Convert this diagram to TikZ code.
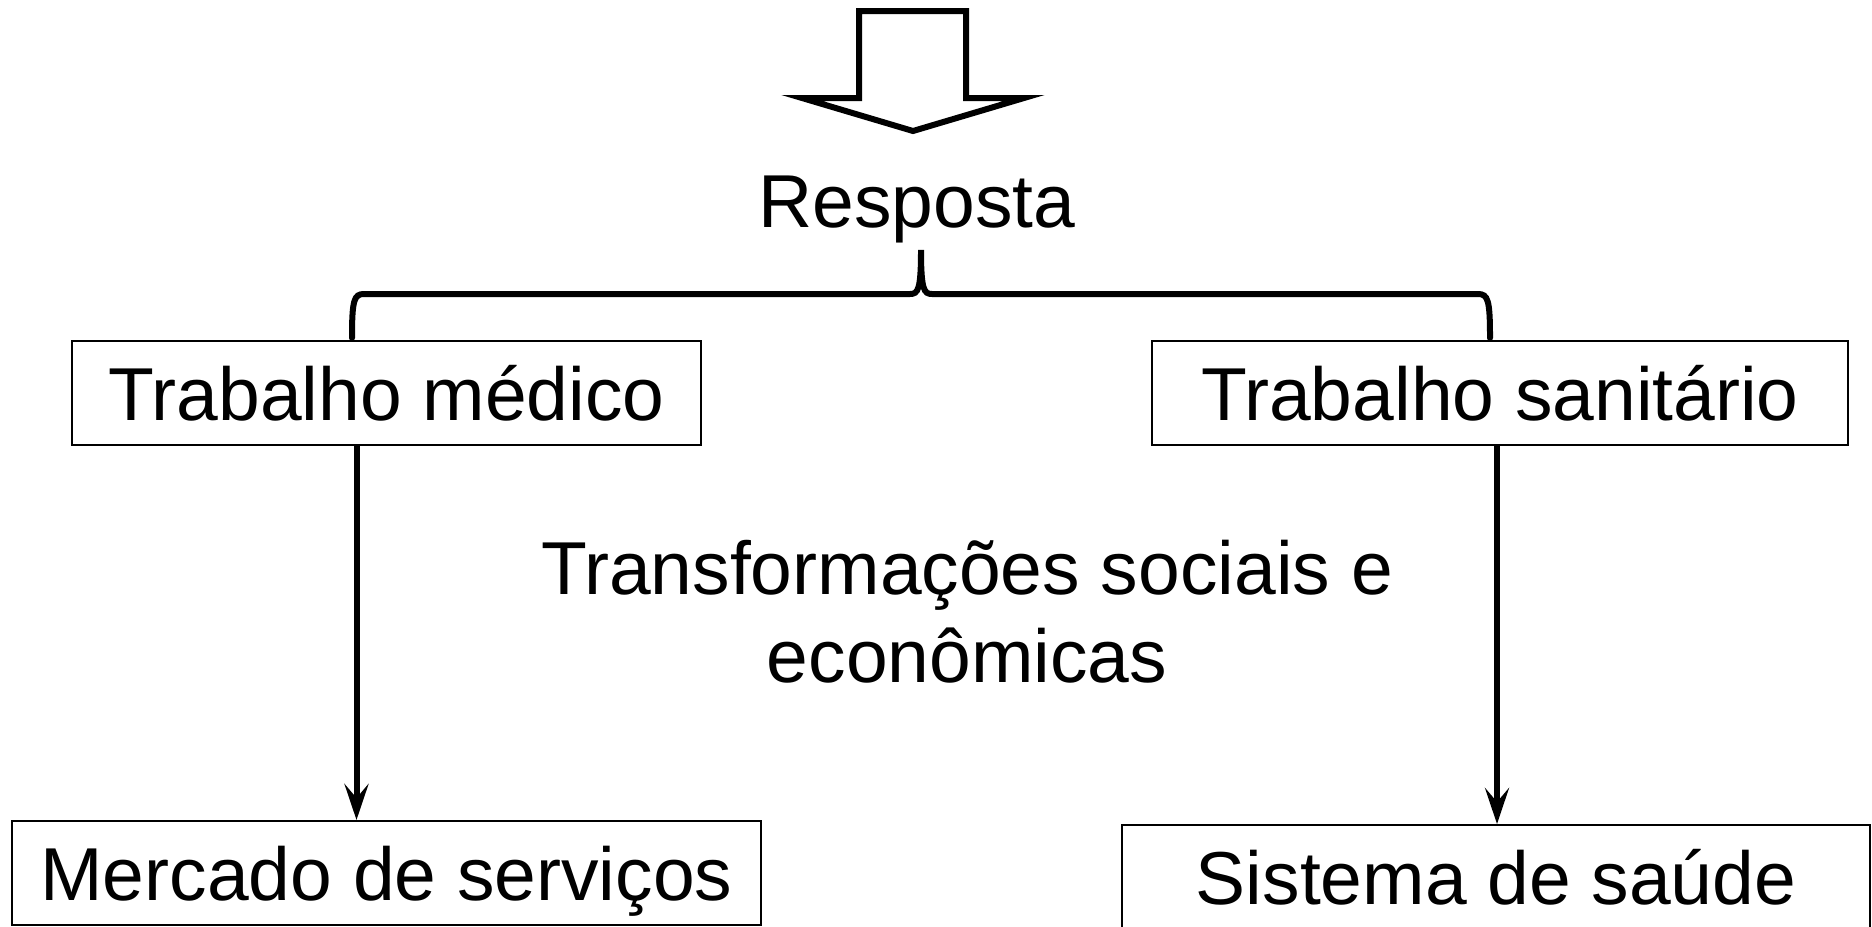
\documentclass[tikz,border=0pt]{standalone}
\usepackage{fontspec}
\setmainfont{Liberation Sans}
\usetikzlibrary{arrows.meta,positioning,calc}

\begin{document}
\begin{tikzpicture}[x=0.5pt,y=-0.5pt,
    texto/.style={font=\fontsize{37.5}{44}\selectfont},
    caixa/.style={texto,draw,line width=1pt,inner xsep=0pt,inner ysep=0pt,
        text height=39.5pt,text depth=12.5pt,minimum width=#1},
    seta/.style={line width=3pt,-{Stealth[length=18pt,width=12pt,inset=7pt]}}]
    \useasboundingbox (0,0) rectangle (1872,926);
    \clip (0,0) rectangle (1872,926);
    % seta grande do topo
    \draw[line width=3pt,line join=miter] (859,11) -- (966,11) -- (966,98) -- (1024,98)
        -- (913,131) -- (802,98) -- (859,98) -- cycle;
    \node[texto,anchor=base] (resp) at (917,227) {Resposta};
    % chave
    \coordinate (chave) at (921,250);
    \draw[line width=3pt,line cap=round] (352,338) .. controls (352,300) and (354,294) .. (364,294)
        -- (910,294) .. controls (918,294) and (921,290) .. (chave)
        .. controls (921,290) and (924,294) .. (932,294) -- (1478,294)
        .. controls (1488,294) and (1490,300) .. (1490,338);
    \node[caixa=314.5pt] (med) at (386.5,393) {Trabalho médico};
    \node[caixa=348pt] (san) at (1500,393) {Trabalho sanitário};
    \node[texto,align=center] (transf) at (967,612) {Transformações sociais e\\econômicas};
    \node[caixa=374.5pt] (mer) at (386.5,873) {Mercado de serviços};
    \node[caixa=374pt] (sis) at (1496,877) {Sistema de saúde};
    \draw[seta] ([xshift=-15pt]med.south) -- ([xshift=-15pt]med.south |- mer.north);
    \draw[seta] ([xshift=-1.5pt]san.south) -- ([xshift=-1.5pt]san.south |- sis.north);
\end{tikzpicture}
\end{document}
